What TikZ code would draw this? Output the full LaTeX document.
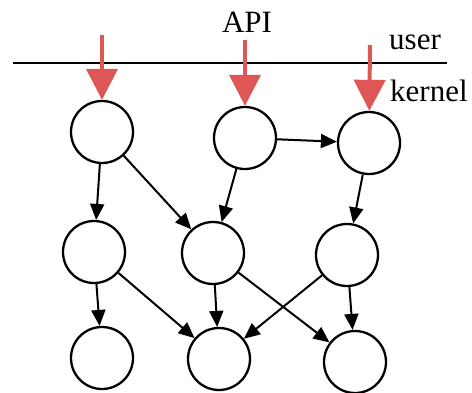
\documentclass[tikz,border=0pt]{standalone}
\usepackage{fontspec}
\setmainfont{Liberation Serif}
\usetikzlibrary{arrows.meta}
\definecolor{apired}{RGB}{222,86,86}
\begin{document}
\begin{tikzpicture}[x=1pt,y=-1pt,
  proc/.style={circle,draw=black,line width=2.3pt,minimum size=62pt,inner sep=0pt},
  dep/.style={line width=2pt,-{Triangle[length=16pt,width=14pt]}},
  call/.style={draw=apired,line width=4pt,-{Triangle[length=31pt,width=31pt]},shorten >=0pt},
  lbl/.style={font=\fontsize{31}{33}\selectfont,inner sep=0pt}]
\useasboundingbox (0,0) rectangle (472,392);
% boundary line
\coordinate (l0) at (13,63);
\coordinate (l1) at (447,63);
\draw[line width=2.3pt] (l0) -- (l1);
% labels
\node[lbl] (api) at (247,22) {API};
\node[lbl,anchor=west] (user) at (389,42) {user};
\node[lbl,anchor=west] (kernel) at (390,91) {kernel};
% nodes
\node[proc] (A) at (102,132) {};
\node[proc] (B) at (245,138) {};
\node[proc] (C) at (369,143) {};
\node[proc] (D) at (94,252) {};
\node[proc] (E) at (213,253) {};
\node[proc] (F) at (347,255) {};
\node[proc] (G) at (102,358) {};
\node[proc] (H) at (219,359) {};
\node[proc] (I) at (355,362) {};
% API calls
\coordinate (c1) at (102,35);
\coordinate (c2) at (245,40);
\coordinate (c3) at (370,45);
\draw[call] (c1) -- (A);
\draw[call] (c2) -- (B);
\draw[call] (c3) -- (C);
% dependencies
\draw[dep] (A) -- (D);
\draw[dep] (A) -- (E);
\draw[dep] (B) -- (E);
\draw[dep] (B) -- (C);
\draw[dep] (C) -- (F);
\draw[dep] (D) -- (G);
\draw[dep] (D) -- (H);
\draw[dep] (E) -- (H);
\draw[dep] (E) -- (I);
\draw[dep] (F) -- (H);
\draw[dep] (F) -- (I);
\end{tikzpicture}
\end{document}
